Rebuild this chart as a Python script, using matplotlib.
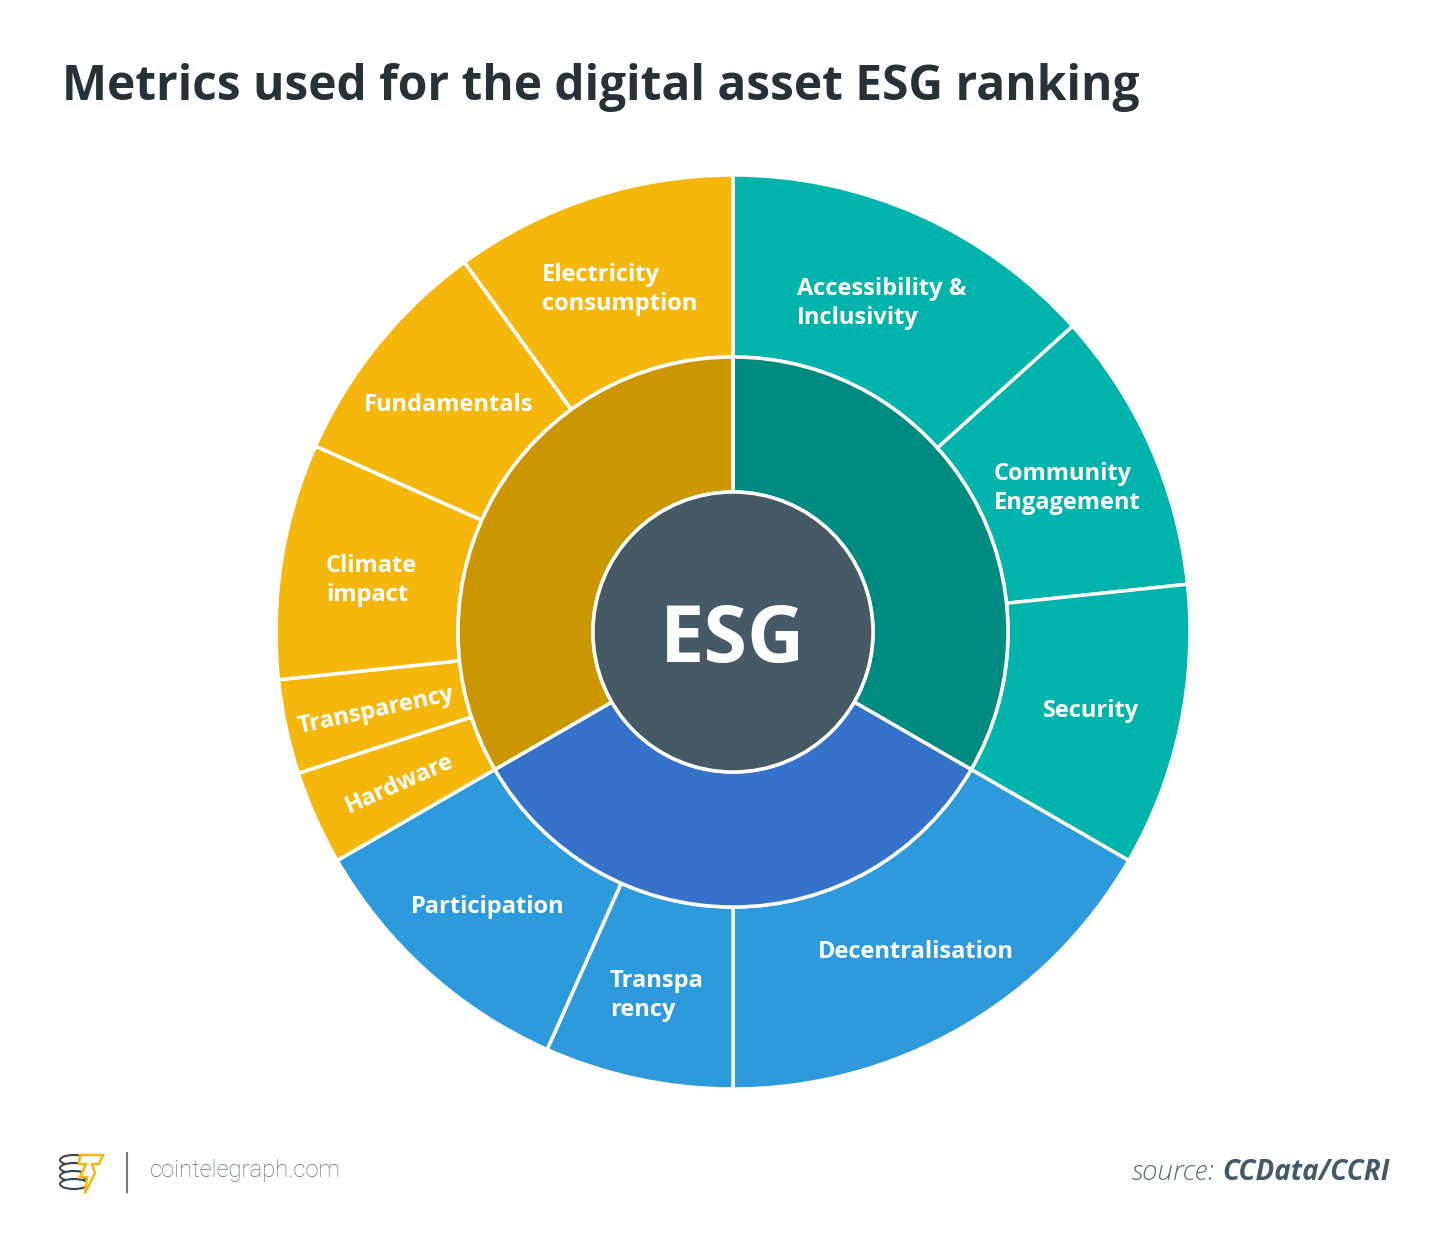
import numpy as np
import matplotlib.pyplot as plt
from matplotlib.patches import Circle, Ellipse, Polygon

# Дані: три стовпи ESG і їхні підметрики (за годинниковою стрілкою від 12 години)
pillars = ['S', 'G', 'E']
pillar_weights = [1 / 3, 1 / 3, 1 / 3]

social_labels = ['Accessibility &\nInclusivity', 'Community\nEngagement', 'Security']
social_shares = [40, 30, 30]
governance_labels = ['Decentralisation', 'Transpa\nrency', 'Participation']
governance_shares = [50, 20, 30]
environment_labels = ['Hardware', 'Transparency', 'Climate\nimpact', 'Fundamentals',
                      'Electricity\nconsumption']
environment_shares = [10, 10, 25, 25, 30]

# Кольори
inner_colors = ['#008b82', '#3473c9', '#cc9600']
outer_base = ['#00b3ab', '#2d9bdb', '#f5b70c']
center_color = '#455a64'
title_color = '#263238'

W, H = 1450, 1253
fig = plt.figure(figsize=(W / 100, H / 100), dpi=100)
ax = fig.add_axes([0, 0, 1, 1])

cx, cy = 733, H - 632
r_outer, r_mid, r_center = 457, 275, 140

# Зовнішнє кільце
outer_labels = social_labels + governance_labels + environment_labels
groups = [social_shares, governance_shares, environment_shares]
outer_values = []
outer_colors = []
for w, shares, col in zip(pillar_weights, groups, outer_base):
    for s in shares:
        outer_values.append(w * s / 100)
        outer_colors.append(col)

wedges, _ = ax.pie(outer_values, radius=r_outer, center=(cx, cy), startangle=90,
                   counterclock=False, colors=outer_colors,
                   wedgeprops=dict(width=r_outer - r_mid, edgecolor='white', linewidth=2.5))

# Внутрішнє кільце
ax.pie(pillar_weights, radius=r_mid, center=(cx, cy), startangle=90,
       counterclock=False, colors=inner_colors,
       wedgeprops=dict(width=r_mid - r_center, edgecolor='white', linewidth=2.5))

# pie() перезаписує межі осей, тому задаємо їх після
ax.set_xlim(0, W)
ax.set_ylim(0, H)
ax.set_aspect('equal')
ax.axis('off')

ax.add_patch(Circle((cx, cy), r_center, facecolor=center_color, edgecolor='white',
                    linewidth=2.5, zorder=5))
ax.text(cx, cy - 30, 'ESG', color='white', fontsize=57, fontweight='bold',
        family='Open Sans', ha='center', va='baseline', zorder=6)

# Підписи сегментів
rotated = {'Hardware', 'Transparency'}
r_lab = (r_outer + r_mid) / 2
for wdg, lab in zip(wedges, outer_labels):
    ang = np.deg2rad((wdg.theta1 + wdg.theta2) / 2)
    x = cx + r_lab * np.cos(ang)
    y = cy + r_lab * np.sin(ang)
    rot = 0
    if lab in rotated:
        rot = np.rad2deg(ang) - 180
    ax.text(x, y, lab, color='white', fontsize=17, fontweight='bold',
            family='Open Sans', ha='center', va='center_baseline', multialignment='left',
            rotation=rot, rotation_mode='anchor', linespacing=1.27)

# Заголовок
ax.text(62, H - 100, 'Metrics used for the digital asset ESG ranking', color=title_color,
        fontsize=34.5, fontweight='bold', family='Open Sans', ha='left', va='baseline')

# Нижній колонтитул: логотип
lx, ly = 74, H - 1172
for i in range(4):
    ax.add_patch(Ellipse((lx, ly + 12 - i * 8), 28, 10, facecolor='white',
                         edgecolor='#37474f', linewidth=1.5, zorder=3 + i))
bolt = [(80, 1155), (103, 1155), (99, 1164), (92, 1164), (95, 1173), (85, 1193),
        (87, 1177), (80, 1177), (86, 1164), (79, 1164)]
ax.add_patch(Polygon([(px, H - py) for px, py in bolt], closed=True, facecolor='white',
                     edgecolor='#f5b70c', linewidth=1.8, zorder=10))
ax.plot([127, 127], [H - 1153, H - 1192], color='#757575', linewidth=1.5)
ax.text(150, H - 1171, 'cointelegraph.com', color='#5f717c', fontsize=17.2,
        family='Roboto', fontweight='light', ha='left', va='center')

# Джерело
t = ax.text(1390, H - 1173, 'CCData/CCRI', color='#455a64', fontsize=20,
            fontweight='bold', style='italic', family='Open Sans', ha='right', va='center')
fig.canvas.draw()
bb = ax.transData.inverted().transform(t.get_window_extent())
ax.text(bb[0, 0] - 8, H - 1173, 'source:', color='#546e7a', fontsize=20, fontweight='light',
        style='italic', family='Open Sans', ha='right', va='center')

fig.savefig('out.png', dpi=100, facecolor='white')
